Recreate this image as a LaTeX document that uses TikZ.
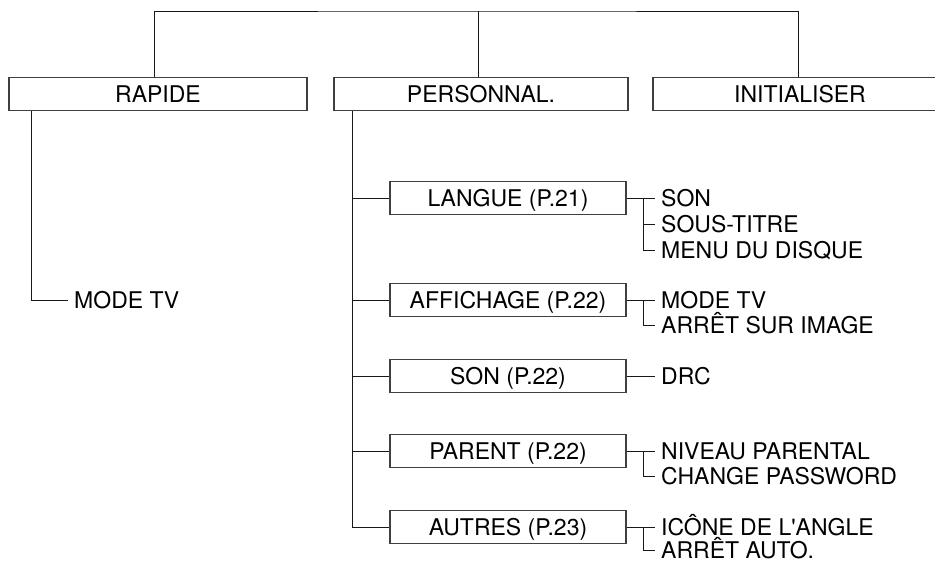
\documentclass[tikz,border=0pt]{standalone}
\usepackage{fontspec}
\setmainfont{TeX Gyre Heros}
\usetikzlibrary{positioning}
\tikzset{
  menubox/.style={draw=black!75,line width=1.4pt,minimum height=33pt,inner sep=0pt,text height=16.6pt,text depth=0pt},
  itemtxt/.style={anchor=west,inner ysep=0pt,inner xsep=6pt,text height=16.6pt,text depth=0pt},
  link/.style={line width=0.9pt,draw=black!90}
}
\begin{document}
\begin{tikzpicture}[x=1pt,y=-1pt,font=\fontsize{23}{27}\selectfont]
\useasboundingbox (0,0) rectangle (935,560);
% top row
\node[menubox,minimum width=298pt] (rapide) at (158,94){RAPIDE};
\node[menubox,minimum width=294pt] (perso) at (481,94){PERSONNAL.};
\node[menubox,minimum width=294pt] (init) at (800,94){INITIALISER};
\coordinate (top) at (478,11);
\draw[link] ([xshift=-4pt]rapide.north) |- (top) -| ([xshift=-2pt]init.north);
\draw[link] (top) -- ([xshift=-3pt]perso.north);
% rapide
\coordinate (rtop) at ([xshift=23pt]rapide.south west);
\node[itemtxt] (mtv) at (68,300){MODE TV};
\draw[link] (rtop) |- (mtv.west);
% personnal. sub menus
\coordinate (ptop) at ([xshift=19pt]perso.south west);
\foreach \nm/\lbl/\yy in {langue/LANGUE (P.21)/198,affich/AFFICHAGE (P.22)/300,son/SON (P.22)/376,parent/PARENT (P.22)/451,autres/AUTRES (P.23)/527}{
  \node[menubox,minimum width=236pt] (\nm) at (508,\yy){\lbl};
  \draw[link] (ptop |- \nm.west) -- (\nm.west);
}
\draw[link] (ptop) |- (autres.west);
% items
\node[itemtxt] (l1) at (655,198){SON};
\node[itemtxt] (l2) at (655,224){SOUS-TITRE};
\node[itemtxt] (l3) at (655,250){MENU DU DISQUE};
\node[itemtxt] (a1) at (655,300){MODE TV};
\node[itemtxt] (a2) at (655,325){ARRÊT SUR IMAGE};
\node[itemtxt] (s1) at (655,376){DRC};
\node[itemtxt] (p1) at (655,451){NIVEAU PARENTAL};
\node[itemtxt] (p2) at (655,476){CHANGE PASSWORD};
\node[itemtxt] (o1) at (655,527){ICÔNE DE L\textquotesingle ANGLE};
\node[itemtxt] (o2) at (655,550){ARRÊT AUTO.};
% brackets
\draw[link] (langue.east) -- (l1.west);
\draw[link] ([xshift=17pt]langue.east) |- (l3.west);
\draw[link] ([xshift=17pt]langue.east |- l2.west) -- (l2.west);
\draw[link] (affich.east) -- (a1.west);
\draw[link] ([xshift=17pt]affich.east) |- (a2.west);
\draw[link] (son.east) -- (s1.west);
\draw[link] (parent.east) -- (p1.west);
\draw[link] ([xshift=17pt]parent.east) |- (p2.west);
\draw[link] (autres.east) -- (o1.west);
\draw[link] ([xshift=17pt]autres.east) |- (o2.west);
\end{tikzpicture}
\end{document}
